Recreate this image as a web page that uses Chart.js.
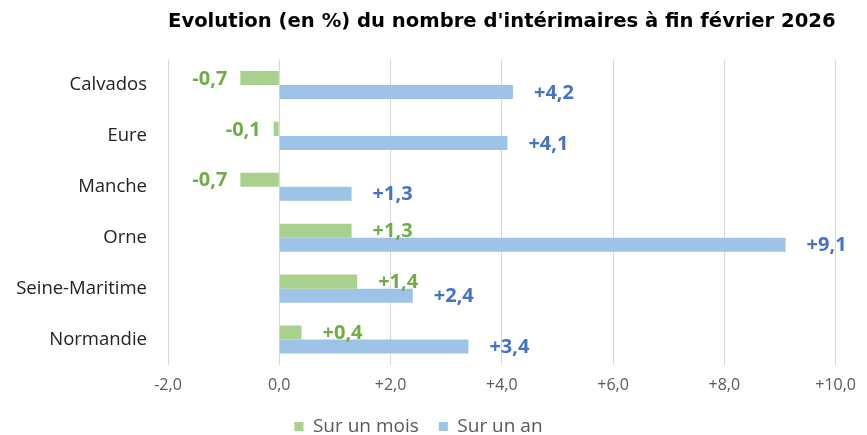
<!DOCTYPE html>
<html>
<head>
<meta charset="utf-8">
<script src="https://cdn.jsdelivr.net/npm/chart.js@4"></script>
<style>
  html, body { margin: 0; padding: 0; background: #fff; overflow: hidden; }
  #wrap { width: 867px; height: 435px; position: relative; }
</style>
</head>
<body>
<div id="wrap"><canvas id="grafico"></canvas></div>
<script>
const departements = ['Calvados', 'Eure', 'Manche', 'Orne', 'Seine-Maritime', 'Normandie'];
const surUnMois = [-0.7, -0.1, -0.7, 1.3, 1.4, 0.4];
const surUnAn = [4.2, 4.1, 1.3, 9.1, 2.4, 3.4];
const titre = "Evolution (en %) du nombre d'intérimaires à fin février 2026";

function formater(v) {
    const s = Math.abs(v).toFixed(1).replace('.', ',');
    if (v > 0) return '+' + s;
    if (v < 0) return '-' + s;
    return s;
}

// etiquettes de valeurs au bout des barres
const etiquettes = {
    id: 'etiquettes',
    afterDatasetsDraw(chart) {
        const ctx = chart.ctx;
        ctx.save();
        ctx.font = 'bold 20px "Open Sans", sans-serif';
        ctx.textBaseline = 'middle';
        chart.data.datasets.forEach((ds, i) => {
            const meta = chart.getDatasetMeta(i);
            meta.data.forEach((bar, j) => {
                const v = ds.data[j];
                ctx.fillStyle = ds.labelColor;
                if (v >= 0) {
                    ctx.textAlign = 'left';
                    ctx.fillText(formater(v), bar.x + 21, bar.y + 1);
                } else {
                    ctx.textAlign = 'right';
                    ctx.fillText(formater(v), bar.x - 13, bar.y + 1);
                }
            });
        });
        ctx.restore();
    }
};

const ctx = document.getElementById('grafico').getContext('2d');
new Chart(ctx, {
    type: 'bar',
    data: {
        labels: departements,
        datasets: [{
            label: 'Sur un mois',
            data: surUnMois,
            backgroundColor: '#A9D18E',
            labelColor: '#70AD47',
            categoryPercentage: 0.55,
            barPercentage: 1
        }, {
            label: 'Sur un an',
            data: surUnAn,
            backgroundColor: '#9DC3E6',
            labelColor: '#4472C4',
            categoryPercentage: 0.55,
            barPercentage: 1
        }]
    },
    options: {
        indexAxis: 'y',
        responsive: true,
        maintainAspectRatio: false,
        animation: false,
        layout: { padding: { left: 0, right: 30, top: 0, bottom: -11 } },
        plugins: {
            title: {
                display: true,
                text: titre,
                fullSize: false,
                color: '#000',
                font: { family: 'DejaVu Sans', size: 20, weight: 'bold' },
                padding: { top: 10, bottom: 25.5 }
            },
            legend: {
                position: 'bottom',
                labels: {
                    color: '#595959',
                    font: { family: '"Open Sans", sans-serif', size: 19 },
                    boxWidth: 9,
                    boxHeight: 9,
                    padding: 20
                }
            },
            tooltip: { enabled: false }
        },
        scales: {
            x: {
                min: -2,
                max: 10,
                ticks: {
                    stepSize: 2,
                    color: '#595959',
                    font: { family: '"Open Sans", sans-serif', size: 16 },
                    padding: 11,
                    callback: v => formater(v)
                },
                grid: { color: '#d9d9d9', drawTicks: false },
                border: { display: false },
                afterFit: s => { s.height = 32; }
            },
            y: {
                ticks: {
                    color: '#222',
                    font: { family: '"Open Sans", sans-serif', size: 18.5 },
                    padding: 13
                },
                grid: { display: false },
                border: { display: false },
                afterFit: s => { s.width = 168; }
            }
        }
    },
    plugins: [etiquettes]
});
</script>
</body>
</html>
